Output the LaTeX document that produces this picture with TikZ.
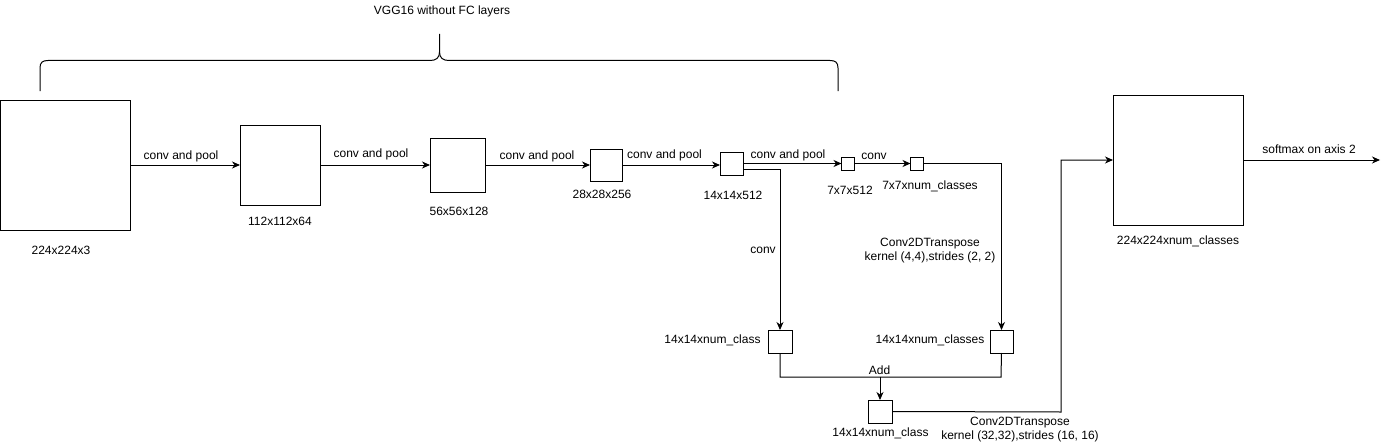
\documentclass[tikz,border=0pt]{standalone}
\usepackage{fontspec}
\setmainfont{Liberation Sans}
\usetikzlibrary{arrows.meta}
\begin{document}
\begin{tikzpicture}[x=1pt,y=-1pt,
  box/.style={draw=black,line width=1pt,fill=white,inner sep=0pt,outer sep=0pt},
  lbl/.style={inner sep=0pt,font=\fontsize{12}{14}\selectfont,align=center},
  wire/.style={draw=black,line width=1pt},
  arr/.style={wire,-{Stealth[length=8pt,width=7pt,inset=2.5pt]}}]
\useasboundingbox (0,0) rectangle (1389,444);
\fill[white] (0,0) rectangle (1389,444);

% brace
\node[lbl] (title) at (442,11) {VGG16 without FC layers};
\draw[wire] (40,91) -- (40,68) .. controls (40,62.5) and (42.5,60.5) .. (48,60.5)
  -- (430,60.5) .. controls (436,60.5) and (439.5,58) .. (439.5,52) -- (439.5,34);
\draw[wire] (439.5,52) .. controls (439.5,58) and (443,60.5) .. (449,60.5)
  -- (830,60.5) .. controls (835.5,60.5) and (838,62.5) .. (838,68) -- (838,91);

% boxes
\node[box,minimum width=130pt,minimum height=130pt] (A) at (65,165) {};
\node[box,minimum width=80pt,minimum height=80pt] (B) at (280,165) {};
\node[box,minimum width=55pt,minimum height=54pt] (C) at (457.5,165) {};
\node[box,minimum width=32pt,minimum height=32pt] (D) at (606,165) {};
\node[box,minimum width=23pt,minimum height=23pt] (E) at (731.5,163.5) {};
\node[box,minimum width=13pt,minimum height=13pt] (F) at (848,163.5) {};
\node[box,minimum width=13pt,minimum height=13pt] (G) at (917,163.5) {};
\node[box,minimum width=24pt,minimum height=23pt] (I) at (780,341.5) {};
\node[box,minimum width=23pt,minimum height=23pt] (H) at (1001.5,341.5) {};
\node[box,minimum width=24pt,minimum height=23pt] (J) at (880,411.5) {};
\node[box,minimum width=130pt,minimum height=130pt] (K) at (1178,160) {};

% labels
\node[lbl] (lA) at (61,250) {224x224x3};
\node[lbl] (lB) at (280,221) {112x112x64};
\node[lbl] (lC) at (459,211) {56x56x128};
\node[lbl] (lD) at (602,194) {28x28x256};
\node[lbl] (lE) at (733,195.5) {14x14x512};
\node[lbl] (lF) at (850,190.5) {7x7x512};
\node[lbl] (lG) at (930,186) {7x7xnum\_classes};
\node[lbl] (lI) at (712.5,340) {14x14xnum\_class};
\node[lbl] (lH) at (930,340) {14x14xnum\_classes};
\node[lbl] (lJ) at (880.5,433) {14x14xnum\_class};
\node[lbl] (lK) at (1178,241.5) {224x224xnum\_classes};

\node[lbl] (eAB) at (181,156) {conv and pool};
\node[lbl] (eBC) at (371,154) {conv and pool};
\node[lbl] (eCD) at (537,156.5) {conv and pool};
\node[lbl] (eDE) at (664.5,155.5) {conv and pool};
\node[lbl] (eEF) at (788,155) {conv and pool};
\node[lbl] (eFG) at (874,156) {conv};
\node[lbl] (eEI) at (763,250.5) {conv};
\node[lbl] (eGH) at (930,250.5) {Conv2DTranspose\\kernel (4,4),strides (2, 2)};
\node[lbl] (eAdd) at (879.5,370.5) {Add};
\node[lbl] (eJK) at (1020,430) {Conv2DTranspose\\kernel (32,32),strides (16, 16)};
\node[lbl] (eOut) at (1309,149.5) {softmax on axis 2};

% coordinates
\coordinate (addL) at (780,377);
\coordinate (addM) at (880,377);
\coordinate (addR) at (1001,377);
\coordinate (up) at (1061,412);
\coordinate (out) at (1380,160);

% connectors
\draw[arr] (A.east) -- (B.west);
\draw[arr] (B.east) -- (C.west);
\draw[arr] (C.east) -- (D.west);
\draw[arr] (D.east) -- (D.east -| E.west);
\draw[arr] (E.east) -- (F.west);
\draw[arr] (F.east) -- (G.west);
\draw[arr] (G.east) -| (H.north);
\draw[arr] ([yshift=-5.5pt]E.east) -| (I.north);
\draw[wire] (I.south) -- (addL) -- (addR) -- (H.south);
\draw[arr] (addM) -- (J.north);
\draw[arr] (J.east) -- (up) |- (K.west);
\draw[arr] (K.east) -- (out);
\end{tikzpicture}
\end{document}
